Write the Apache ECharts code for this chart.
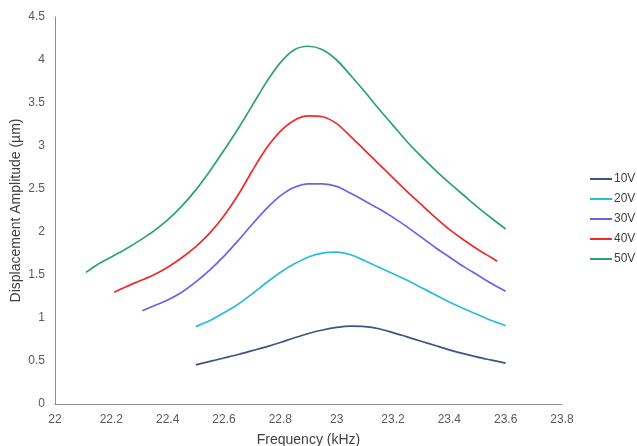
<!DOCTYPE html>
<html>
<head>
<meta charset="utf-8">
<script src="https://cdn.jsdelivr.net/npm/echarts@6/dist/echarts.min.js"></script>
<style>html,body{margin:0;padding:0;background:#fff}#c{width:637px;height:446px}</style>
</head>
<body>
<div id="c"></div>
<script>
const seriesNames = ['10V', '20V', '30V', '40V', '50V'];
const colors = ['#3f5482', '#2bbbdc', '#6b62ea', '#ee2a2f', '#2ba46c'];
const xTicks = ['22', '22.2', '22.4', '22.6', '22.8', '23', '23.2', '23.4', '23.6', '23.8'];

const freq10 = [22.50, 22.55, 22.60, 22.65, 22.70, 22.75, 22.80, 22.85, 22.90, 22.95, 23.00, 23.05, 23.10, 23.15, 23.20, 23.25, 23.30, 23.35, 23.40, 23.45, 23.50, 23.55, 23.60];
const amp10  = [0.455, 0.495, 0.535, 0.575, 0.62, 0.665, 0.715, 0.77, 0.82, 0.86, 0.89, 0.905, 0.90, 0.875, 0.83, 0.78, 0.73, 0.68, 0.63, 0.585, 0.545, 0.51, 0.475];

const freq20 = [22.50, 22.55, 22.60, 22.65, 22.70, 22.75, 22.80, 22.85, 22.90, 22.95, 23.00, 23.05, 23.10, 23.15, 23.20, 23.25, 23.30, 23.35, 23.40, 23.45, 23.50, 23.55, 23.60];
const amp20  = [0.90, 0.97, 1.06, 1.16, 1.28, 1.41, 1.53, 1.63, 1.71, 1.755, 1.765, 1.735, 1.665, 1.59, 1.515, 1.44, 1.355, 1.27, 1.185, 1.11, 1.04, 0.97, 0.91];

const freq30 = [22.31, 22.35, 22.40, 22.45, 22.50, 22.55, 22.60, 22.65, 22.70, 22.75, 22.80, 22.85, 22.90, 22.95, 23.00, 23.05, 23.10, 23.15, 23.20, 23.25, 23.30, 23.35, 23.40, 23.45, 23.50, 23.55, 23.60];
const amp30  = [1.085, 1.14, 1.21, 1.30, 1.42, 1.56, 1.72, 1.90, 2.09, 2.27, 2.42, 2.52, 2.56, 2.56, 2.53, 2.45, 2.36, 2.27, 2.17, 2.06, 1.94, 1.82, 1.71, 1.60, 1.50, 1.40, 1.31];

const freq40 = [22.21, 22.25, 22.30, 22.35, 22.40, 22.45, 22.50, 22.55, 22.60, 22.65, 22.70, 22.75, 22.80, 22.85, 22.90, 22.95, 23.00, 23.05, 23.10, 23.15, 23.20, 23.25, 23.30, 23.35, 23.40, 23.45, 23.50, 23.55, 23.57];
const amp40  = [1.30, 1.36, 1.43, 1.50, 1.59, 1.70, 1.83, 1.99, 2.19, 2.43, 2.71, 2.97, 3.17, 3.30, 3.35, 3.34, 3.26, 3.11, 2.95, 2.79, 2.63, 2.47, 2.32, 2.17, 2.03, 1.91, 1.80, 1.70, 1.66];

const freq50 = [22.11, 22.15, 22.20, 22.25, 22.30, 22.35, 22.40, 22.45, 22.50, 22.55, 22.60, 22.65, 22.70, 22.75, 22.80, 22.85, 22.90, 22.95, 23.00, 23.05, 23.10, 23.15, 23.20, 23.25, 23.30, 23.35, 23.40, 23.45, 23.50, 23.55, 23.60];
const amp50  = [1.53, 1.62, 1.71, 1.80, 1.90, 2.01, 2.14, 2.30, 2.49, 2.71, 2.95, 3.20, 3.47, 3.74, 3.97, 4.12, 4.16, 4.12, 4.00, 3.82, 3.63, 3.43, 3.24, 3.05, 2.88, 2.72, 2.57, 2.43, 2.29, 2.16, 2.035];

const freqs = [freq10, freq20, freq30, freq40, freq50];
const amps = [amp10, amp20, amp30, amp40, amp50];

const chart = echarts.init(document.getElementById('c'));
chart.setOption({
  animation: false,
  backgroundColor: '#ffffff',
  textStyle: { fontFamily: 'Liberation Sans, Arial, sans-serif' },
  grid: { left: 55, top: 17, right: 75, bottom: 42, containLabel: false, outerBoundsMode: 'none' },
  legend: {
    orient: 'vertical',
    left: 585,
    top: 168,
    itemWidth: 22,
    itemHeight: 2,
    itemGap: 8,
    icon: 'rect',
    textStyle: { color: '#404040', fontSize: 12, padding: [0, 0, 0, -3] },
    data: seriesNames
  },
  xAxis: {
    type: 'value',
    min: 22, max: 23.8, interval: 0.2,
    name: 'Frequency (kHz)',
    nameLocation: 'middle',
    nameGap: 29,
    nameMoveOverlap: false,
    nameTextStyle: { color: '#404040', fontSize: 14 },
    axisLine: { show: true, lineStyle: { color: '#8c8c8c', width: 1 } },
    axisTick: { show: false },
    splitLine: { show: false },
    axisLabel: {
      color: '#595959', fontSize: 12, margin: 10,
      formatter: function (v) { const i = Math.round((v - 22) / 0.2); return xTicks[i] !== undefined ? xTicks[i] : ''; }
    }
  },
  yAxis: {
    type: 'value',
    min: 0, max: 4.5, interval: 0.5,
    name: 'Displacement Amplitude (µm)',
    nameLocation: 'middle',
    nameGap: 32,
    nameMoveOverlap: false,
    nameTextStyle: { color: '#404040', fontSize: 14 },
    axisLine: { show: true, lineStyle: { color: '#8c8c8c', width: 1 } },
    axisTick: { show: false },
    splitLine: { show: false },
    axisLabel: { color: '#595959', fontSize: 12, margin: 10 }
  },
  series: seriesNames.map(function (n, k) {
    return {
      name: n,
      type: 'line',
      smooth: 0.3,
      showSymbol: false,
      symbol: 'none',
      color: colors[k],
      lineStyle: { width: 1.7, color: colors[k] },
      data: freqs[k].map(function (f, i) { return [f, amps[k][i]]; })
    };
  })
});
</script>
</body>
</html>
